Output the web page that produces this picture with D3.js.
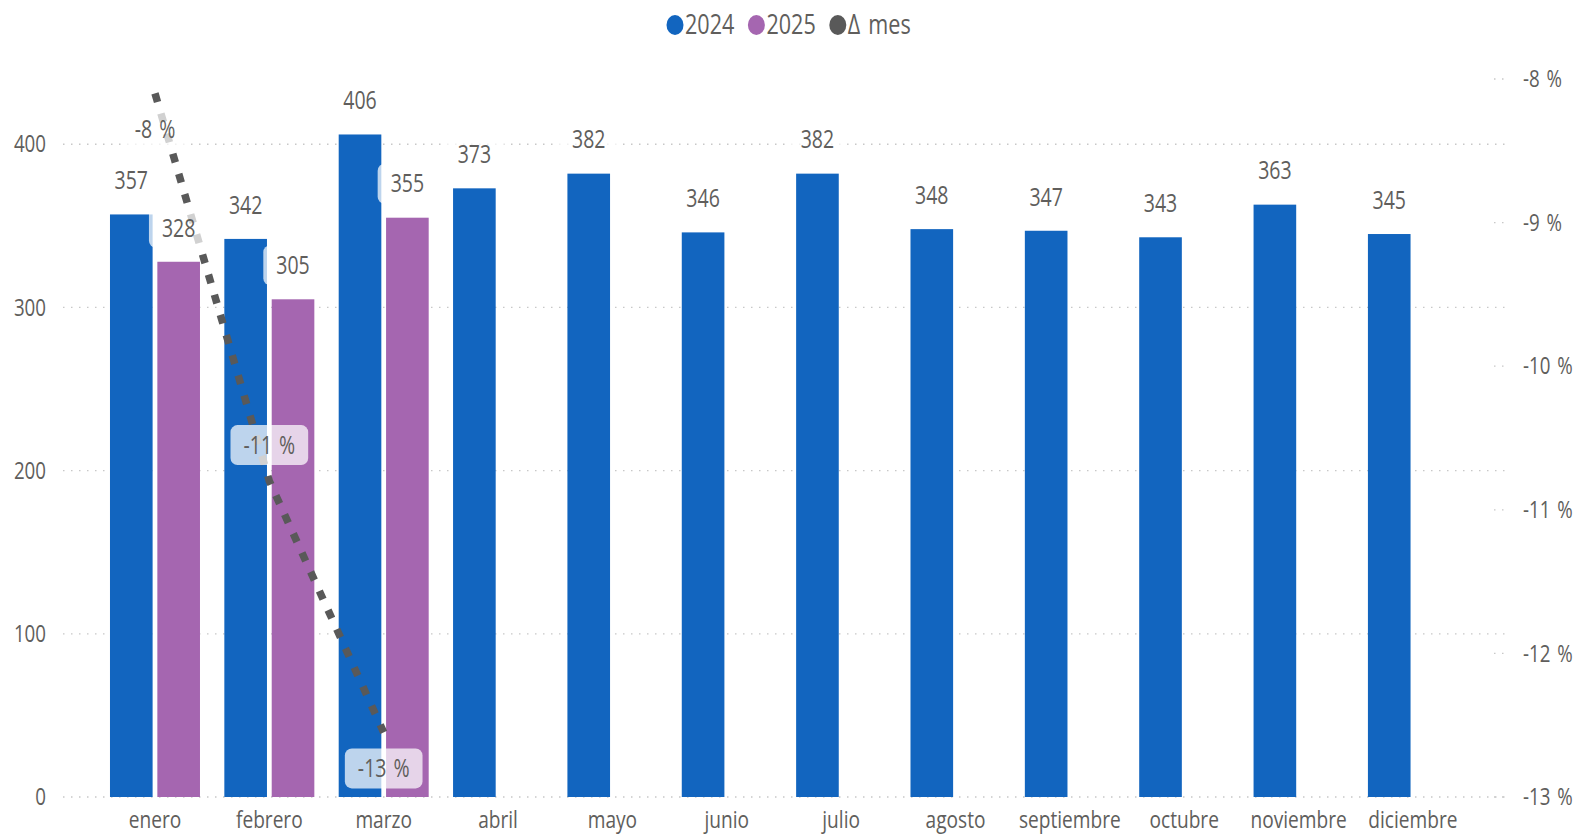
<!DOCTYPE html>
<html>
<head>
<meta charset="utf-8">
<script src="https://cdn.jsdelivr.net/npm/d3@7"></script>
<style>
  html, body { margin: 0; padding: 0; background: #ffffff; }
  svg { display: block; font-family: "Open Sans", "Noto Sans", sans-serif; }
</style>
</head>
<body>
<svg id="chart" width="1580" height="836"></svg>
<script>
// ---- data ----
const months = ["enero","febrero","marzo","abril","mayo","junio","julio","agosto","septiembre","octubre","noviembre","diciembre"];
const values2024 = [357,342,406,373,382,346,382,348,347,343,363,345];
const values2025 = [328,305,355];
const deltaMes = [-0.081,-0.108,-0.1255];
const leftTicks = [0,100,200,300,400];
const rightTicks = [-0.08,-0.09,-0.10,-0.11,-0.12,-0.13];
const seriesNames = ["2024","2025","Δ mes"];
// label side for Δ mes labels (1 = below point, -1 = above)
const deltaLabelSide = [1,-1,1];

// ---- style ----
const C2024 = "#1265BF", C2025 = "#A566B0", CLINE = "#595959", CTEXT = "#605E5C", CGRID = "#c8c8c8";
const SX = 0.78;
const WS = "2.5px";

const svg = d3.select("#chart");

const x0 = d3.scaleBand().domain(months).range([97.8, 1470.1]).paddingInner(0.213).paddingOuter(0.1065);
const x1 = d3.scaleBand().domain(["2024","2025"]).range([0, x0.bandwidth()]).paddingInner(0.1);
const y = d3.scaleLinear().domain([0, 440]).range([797, 79]);
const y2 = d3.scaleLinear().domain([-0.13, -0.08]).range([797, 79]);
const pct = d => Math.round(d * 100) + " %";

// gridlines
const grid = svg.append("g");
grid.selectAll("line.g").data(leftTicks).join("line")
  .attr("x1", 63).attr("x2", 1505)
  .attr("y1", d => y(d)).attr("y2", d => y(d))
  .attr("stroke", CGRID).attr("stroke-width", 1.3).attr("stroke-dasharray", "1.5 6.5");
grid.selectAll("line.r").data(rightTicks).join("line")
  .attr("x1", 1494).attr("x2", 1505)
  .attr("y1", d => y2(d)).attr("y2", d => y2(d))
  .attr("stroke", CGRID).attr("stroke-width", 1.3).attr("stroke-dasharray", "1.5 6.5");

// axes
function styleAxis(g, size) {
  g.select(".domain").remove();
  g.selectAll("text").attr("fill", CTEXT).style("font-size", size + "px")
   .style("font-family", '"Open Sans", sans-serif')
   .attr("transform", `scale(${SX},1)`);
}
const gl = svg.append("g").attr("transform", "translate(46,0)")
  .call(d3.axisLeft(y).tickValues(leftTicks).tickSize(0).tickPadding(0));
styleAxis(gl, 24);

const gr = svg.append("g").attr("transform", "translate(1523,0)")
  .call(d3.axisRight(y2).tickValues(rightTicks).tickSize(0).tickPadding(0).tickFormat(pct));
styleAxis(gr, 24);
gr.selectAll("text").style("word-spacing", WS);

const gb = svg.append("g").attr("transform", "translate(0,797)")
  .call(d3.axisBottom(x0).tickSize(0).tickPadding(0));
styleAxis(gb, 24.5);
gb.selectAll("text").attr("y", 31).attr("dy", 0);

// bars
const bars = svg.append("g");
bars.selectAll("rect.b24").data(values2024).join("rect")
  .attr("x", (d, i) => x0(months[i]) + x1("2024"))
  .attr("y", d => y(d)).attr("width", x1.bandwidth()).attr("height", d => y(0) - y(d))
  .attr("fill", C2024);
bars.selectAll("rect.b25").data(values2025).join("rect")
  .attr("x", (d, i) => x0(months[i]) + x1("2025"))
  .attr("y", d => y(d)).attr("width", x1.bandwidth()).attr("height", d => y(0) - y(d))
  .attr("fill", C2025);

// line
const lineGen = d3.line().x((d, i) => x0(months[i]) + x0.bandwidth() / 2).y(d => y2(d));
svg.append("path").datum(deltaMes).attr("d", lineGen)
  .attr("fill", "none").attr("stroke", CLINE).attr("stroke-width", 7.5)
  .attr("stroke-dasharray", "9 12");

// labels
const labels = [];
values2024.forEach((v, i) => labels.push({ x: x0(months[i]) + x1("2024") + x1.bandwidth() / 2, y: y(v) - 34, t: String(v) }));
values2025.forEach((v, i) => labels.push({ x: x0(months[i]) + x1("2025") + x1.bandwidth() / 2, y: y(v) - 34, t: String(v) }));
deltaMes.forEach((v, i) => labels.push({ x: x0(months[i]) + x0.bandwidth() / 2, y: y2(v) + 36 * deltaLabelSide[i], t: pct(v) }));

const boxG = svg.append("g");
const txtG = svg.append("g");
labels.forEach(l => {
  const t = txtG.append("text")
    .attr("transform", `translate(${l.x},${l.y}) scale(${SX},1)`)
    .attr("text-anchor", "middle").attr("dy", "0.35em")
    .style("word-spacing", WS)
    .attr("fill", CTEXT).style("font-size", "25px").text(l.t);
  const w = t.node().getBBox().width * SX + 26;
  boxG.append("rect").attr("x", l.x - w / 2).attr("y", l.y - 20)
    .attr("width", w).attr("height", 40).attr("rx", 7)
    .attr("fill", "#ffffff").attr("fill-opacity", 0.72);
});

// legend
const leg = svg.append("g");
const legColors = [C2024, C2025, CLINE];
const LSX = 0.8;
let lx = 667;
seriesNames.forEach((s, i) => {
  leg.append("ellipse").attr("cx", lx + 8).attr("cy", 25).attr("rx", 8.5).attr("ry", 10).attr("fill", legColors[i]);
  const t = leg.append("text")
    .attr("transform", `translate(${lx + 18},25) scale(${LSX},1)`)
    .attr("dy", "0.35em").attr("fill", CTEXT).style("font-size", "27px")
    .style("word-spacing", "3px").text(s);
  lx += 18 + t.node().getBBox().width * LSX + 14;
});
</script>
</body>
</html>
